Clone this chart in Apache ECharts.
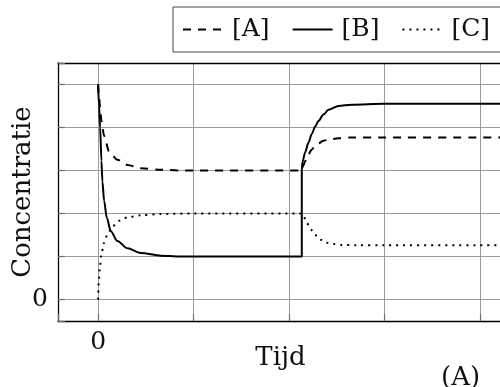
<!DOCTYPE html>
<html>
<head>
<meta charset="utf-8">
<script src="https://cdn.jsdelivr.net/npm/echarts@6/dist/echarts.min.js"></script>
<style>
  html, body { margin: 0; padding: 0; background: #fff; }
  #chart { width: 500px; height: 387px; }
</style>
</head>
<body>
<div id="chart"></div>
<script>
// Values (time, concentration)
const tA = [0, 0.01, 0.021, 0.035, 0.063, 0.115, 0.202, 0.307, 0.447, 0.657, 0.85, 1.0, 2.133,
            2.133, 2.15, 2.168, 2.203, 2.238, 2.272, 2.307, 2.36, 2.412, 2.517, 2.656, 3.0, 4.3];
const vA = [5, 4.72, 4.45, 4.15, 3.8, 3.44, 3.25, 3.13, 3.05, 3.02, 3.0, 3.0, 3.0,
            3.0, 3.12, 3.22, 3.38, 3.49, 3.57, 3.63, 3.69, 3.72, 3.75, 3.77, 3.77, 3.77];

const tB = [0, 0.01, 0.021, 0.035, 0.045, 0.063, 0.091, 0.133, 0.202, 0.307, 0.447, 0.657, 0.85, 1.0, 2.133,
            2.133, 2.14, 2.168, 2.203, 2.238, 2.272, 2.307, 2.36, 2.412, 2.517, 2.656, 3.0, 4.3];
const vB = [5, 4.5, 4.0, 3.22, 2.75, 2.29, 1.9, 1.59, 1.36, 1.19, 1.08, 1.02, 1.0, 1.0, 1.0,
            3.0, 3.2, 3.42, 3.65, 3.85, 4.02, 4.15, 4.3, 4.41, 4.5, 4.53, 4.55, 4.55];

const tC = [0, 0.007, 0.017, 0.035, 0.063, 0.098, 0.15, 0.22, 0.307, 0.447, 0.657, 1.0, 2.133,
            2.15, 2.185, 2.23, 2.272, 2.33, 2.395, 2.47, 2.55, 2.7, 3.0, 4.3];
const vC = [0, 0.41, 0.72, 1.07, 1.32, 1.52, 1.7, 1.83, 1.91, 1.96, 1.99, 2.0, 2.0,
            1.95, 1.78, 1.62, 1.5, 1.39, 1.32, 1.29, 1.27, 1.26, 1.26, 1.26];

const seriesNames = ['[A]', '[B]', '[C]'];
const xLabel = 'Tijd';
const yLabel = 'Concentratie';
const panelTag = '(A)';

const pairs = (ts, vs) => ts.map((t, i) => [t, vs[i]]);

const font = "'DejaVu Serif', 'Liberation Serif', serif";
const chart = echarts.init(document.getElementById('chart'));

const gridLine = { show: true, lineStyle: { color: '#9a9a9a', width: 1 } };
const tick = { show: true, inside: true, length: 7, lineStyle: { color: '#6e6e6e', width: 1.2 } };
const border = { show: true, onZero: false, lineStyle: { color: '#000', width: 1.3 } };

chart.setOption({
  animation: false,
  backgroundColor: '#fff',
  legend: {
    left: 173,
    top: 7,
    width: 400,
    padding: [10, 14, 10, 9],
    itemGap: 22,
    itemWidth: 40,
    itemHeight: 14,
    borderColor: '#444',
    borderWidth: 1,
    itemStyle: { opacity: 0 },
    textStyle: { fontFamily: font, fontSize: 25, color: '#111', padding: [0, 0, 0, 4] },
    data: seriesNames
  },
  grid: { left: 58, right: -3, top: 63, bottom: 66, containLabel: false, outerBoundsMode: 'none' },
  xAxis: [
    {
      type: 'value',
      min: -0.42,
      max: 4.24,
      minInterval: 1,
      maxInterval: 1,
      name: xLabel,
      nameLocation: 'middle',
      nameGap: 24,
      nameMoveOverlap: false,
      nameTextStyle: { fontFamily: font, fontSize: 26, color: '#111', verticalAlign: 'top' },
      axisLine: border,
      axisTick: tick,
      axisLabel: {
        fontFamily: font, fontSize: 25, color: '#111', margin: 9,
        formatter: v => (v === 0 ? '0' : '')
      },
      splitLine: gridLine
    },
    {
      type: 'value',
      position: 'top',
      min: -0.42,
      max: 4.24,
      axisLine: border,
      axisTick: { show: false },
      axisLabel: { show: false },
      splitLine: { show: false }
    }
  ],
  yAxis: {
    type: 'value',
    min: -0.5,
    max: 5.5,
    minInterval: 1,
    maxInterval: 1,
    name: yLabel,
    nameLocation: 'middle',
    nameGap: 22,
    nameMoveOverlap: false,
    nameTextStyle: { fontFamily: font, fontSize: 26, color: '#111' },
    axisLine: border,
    axisTick: tick,
    axisLabel: {
      fontFamily: font, fontSize: 25, color: '#111', margin: 10,
      formatter: v => (v === 0 ? '0' : '')
    },
    splitLine: gridLine
  },
  graphic: [{
    type: 'text',
    left: 441,
    top: 365,
    style: { text: panelTag, fontFamily: font, fontSize: 26, fill: '#111' }
  }],
  series: [
    {
      name: seriesNames[0], type: 'line', data: pairs(tA, vA), symbol: 'none',
      smooth: 0.3, smoothMonotone: 'x',
      lineStyle: { color: '#000', width: 2, type: [8, 7] }, itemStyle: { color: '#000' }
    },
    {
      name: seriesNames[1], type: 'line', data: pairs(tB, vB), symbol: 'none',
      smooth: 0.3, smoothMonotone: 'x',
      lineStyle: { color: '#000', width: 2, type: 'solid' }, itemStyle: { color: '#000' }
    },
    {
      name: seriesNames[2], type: 'line', data: pairs(tC, vC), symbol: 'none',
      smooth: 0.3, smoothMonotone: 'x',
      lineStyle: { color: '#000', width: 2, type: [2, 5] }, itemStyle: { color: '#000' }
    }
  ]
});
</script>
</body>
</html>
